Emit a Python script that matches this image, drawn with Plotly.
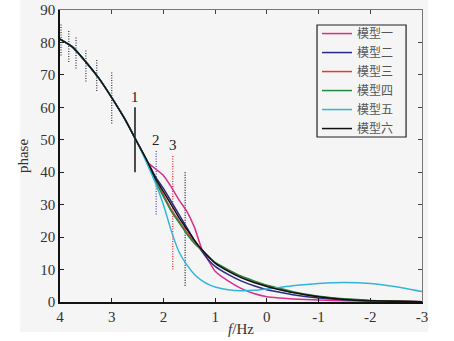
import plotly.graph_objects as go

# ---------------- data ----------------
freq = [4, 3.75, 3.5, 3.25, 3, 2.75, 2.5, 2.3, 2.15, 2.0, 1.85, 1.7, 1.55, 1.4,
        1.25, 1.1, 1.0, 0.75, 0.5, 0.25, 0, -0.25, -0.5, -1, -1.5, -2, -2.5, -3]

common = [81, 78.5, 74, 69, 63, 56.5, 49, 43]  # shared part (4 .. 2.3)

model1 = common + [41, 39, 35.5, 31.5, 28, 23, 16, 12, 9.5, 6.5, 4.2, 2.6, 1.6,
                   1.2, 0.9, 0.6, 0.4, 0.3, 0.2, 0.1]
model2 = common + [38.5, 35, 31, 27, 23, 19, 15.5, 12.5, 11, 8.5, 6.5, 5, 3.8,
                   3.0, 2.2, 1.2, 0.7, 0.4, 0.2, 0.1]
model3 = common + [37.5, 33, 28.5, 25, 21.5, 18.5, 16, 13.5, 12, 9.8, 7.8, 6.2, 5,
                   4.0, 3.0, 1.7, 0.9, 0.4, 0.2, 0.1]
model4 = common + [37, 32.5, 28, 24.5, 21, 18, 15.8, 13.6, 12.2, 10, 8, 6.5, 5.2,
                   4.2, 3.2, 1.8, 1.0, 0.5, 0.2, 0.1]
model5 = common[:-1] + [42, 36.5, 30, 22, 15.5, 11.5, 8.5, 6.5, 5.2, 4.6, 3.8, 3.5,
                        3.6, 4.0, 4.5, 5.0, 5.7, 6.0, 5.7, 4.7, 3.2]
model6 = common + [38, 34, 30, 26, 22.5, 19, 16, 13.5, 12, 9.5, 7.5, 6, 4.8,
                   3.8, 2.9, 1.6, 0.8, 0.4, 0.2, 0.1]

series_names = ["模型一", "模型二", "模型三", "模型四", "模型五", "模型六"]
series_values = [model1, model2, model3, model4, model5, model6]
series_colors = ["#d8308a", "#2a2a86", "#ee3535", "#1f8a40", "#34b4dc", "#111111"]

# window markers: x position, y bottom, y top
marker_x = [3.98, 3.83, 3.69, 3.5, 3.29, 3.0, 2.55, 2.14, 1.82, 1.58]
marker_lo = [76, 74, 72, 68, 65, 55, 40, 27, 10, 5]
marker_hi = [86, 84, 82, 78, 75, 71, 60, 47, 45, 40]
marker_dash = ["dot"] * 6 + ["solid", "dot", "dot", "dot"]
marker_color = ["#444444"] * 6 + ["#222222", "#5555bb", "#ee3535", "#222222"]

label_text = ["1", "2", "3"]
label_x = [2.55, 2.14, 1.82]
label_y = [60, 47, 45.3]

x_ticks = [4, 3, 2, 1, 0, -1, -2, -3]
x_tick_labels = ["4", "3", "2", "1", "0", "-1", "-2", "-3"]
y_ticks = [0, 10, 20, 30, 40, 50, 60, 70, 80, 90]

# ---------------- figure ----------------
fig = go.Figure()

for xm, lo, hi, d, c in zip(marker_x, marker_lo, marker_hi, marker_dash, marker_color):
    fig.add_trace(go.Scatter(x=[xm, xm], y=[lo, hi], mode="lines",
                             line=dict(color=c, width=1.6 if d == "solid" else 1.3,
                                       dash="solid" if d == "solid" else "1px,1.5px"),
                             showlegend=False, hoverinfo="skip"))

for name, vals, col in zip(series_names, series_values, series_colors):
    fig.add_trace(go.Scatter(x=freq, y=vals, mode="lines", name=name,
                             line=dict(color=col, width=1.5, shape="spline", smoothing=0.5)))

for t, xl, yl in zip(label_text, label_x, label_y):
    fig.add_annotation(x=xl, y=yl, text=t, showarrow=False, yanchor="bottom",
                       font=dict(family="Liberation Serif", size=15, color="#222"))

# gray page background behind everything
fig.add_shape(type="rect", xref="paper", yref="paper", x0=-0.11, x1=1.017,
              y0=-0.103, y1=1.04, fillcolor="#f5f5f5", line=dict(width=0), layer="below")
# legend frame
fig.add_shape(type="rect", xref="paper", yref="paper", x0=0.710, x1=0.956,
              y0=0.565, y1=0.9486, fillcolor="rgba(0,0,0,0)",
              line=dict(color="#222", width=1.2), layer="above")

axis_font = dict(family="Liberation Serif", size=15, color="#333")

fig.update_layout(
    width=454, height=341,
    margin=dict(l=60, r=32, t=10, b=39, autoexpand=False),
    paper_bgcolor="white",
    plot_bgcolor="#f5f5f5",
    font=dict(family="Liberation Serif", size=14, color="#333"),
    xaxis=dict(range=[4, -3], tickvals=x_ticks, ticktext=x_tick_labels, ticks="inside",
               ticklen=4, tickcolor="#222", showline=True, linecolor="#111", linewidth=1.5,
               showgrid=False, zeroline=False, tickfont=axis_font, automargin=False,
               title=dict(text="<i>f</i>/Hz", font=axis_font, standoff=0)),
    yaxis=dict(range=[0, 90], tickvals=y_ticks, ticks="inside", ticklen=4,
               tickcolor="#222", showline=True, linecolor="#111", linewidth=1.5,
               showgrid=False, zeroline=False, tickfont=axis_font, automargin=False,
               title=dict(text="phase", font=axis_font, standoff=8)),
    xaxis2=dict(range=[4, -3], tickvals=x_ticks, ticks="inside", ticklen=4,
                tickcolor="#444", overlaying="x", side="top", showticklabels=False,
                showline=True, linecolor="#777", linewidth=1, showgrid=False,
                zeroline=False, automargin=False),
    yaxis2=dict(range=[0, 90], tickvals=y_ticks, ticks="inside", ticklen=4,
                tickcolor="#444", overlaying="y", side="right", showticklabels=False,
                showline=True, linecolor="#777", linewidth=1, showgrid=False,
                zeroline=False, automargin=False),
    legend=dict(x=0.71, y=0.969, xanchor="left", yanchor="top",
                bgcolor="rgba(0,0,0,0)", borderwidth=0,
                font=dict(family="Noto Sans CJK SC", size=12, color="#555"),
                itemwidth=30, tracegroupgap=0),
)

# invisible trace to activate the secondary (mirror) axes
fig.add_trace(go.Scatter(x=[4], y=[0], xaxis="x2", yaxis="y2", mode="markers",
                         marker=dict(opacity=0), showlegend=False, hoverinfo="skip"))

fig.write_html("out.html", config={"displayModeBar": False},
               post_script="document.body.style.margin='0';")
